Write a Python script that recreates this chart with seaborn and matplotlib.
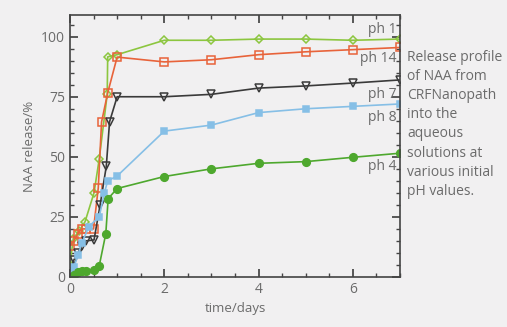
import numpy as np
import pandas as pd
import seaborn as sns
import matplotlib.pyplot as plt
from matplotlib.ticker import MultipleLocator

# release data (time in days, release in %)
t_ph1 = [0, 0.07, 0.19, 0.32, 0.51, 0.62, 0.79, 0.8, 1.0, 2, 3, 4, 5, 6, 7]
v_ph1 = [5, 16, 19, 23, 35, 49, 76, 91.6, 92.5, 98.5, 98.5, 99, 99, 98.5, 99]

t_ph14 = [0, 0.08, 0.17, 0.25, 0.33, 0.5, 0.6, 0.67, 0.8, 1.0, 2, 3, 4, 5, 6, 7]
v_ph14 = [13, 15, 18, 20, 20, 20, 37, 64.5, 76.6, 91.5, 89.5, 90.4, 92.5, 93.7, 94.6, 95.5]

t_ph7 = [0, 0.08, 0.17, 0.25, 0.33, 0.51, 0.64, 0.77, 0.84, 1.0, 2, 3, 4, 5, 6, 7]
v_ph7 = [2, 7, 10, 13, 15, 15.4, 30, 46, 64.6, 75, 75, 76, 78.6, 79.5, 80.7, 82]

t_ph8 = [0, 0.08, 0.17, 0.25, 0.4, 0.62, 0.73, 0.8, 1.0, 2, 3, 4, 5, 6, 7]
v_ph8 = [1, 4, 9, 14, 21, 25, 35, 40, 42, 60.7, 63.2, 68.4, 70, 71, 72]

t_ph4 = [0, 0.08, 0.17, 0.25, 0.33, 0.5, 0.62, 0.76, 0.81, 1.0, 2, 3, 4, 5, 6, 7]
v_ph4 = [0, 1, 2, 2.5, 2.5, 3, 4.6, 18, 32.6, 36.8, 41.8, 45, 47.3, 48, 49.8, 51.5]

labels = ["ph 1", "ph 14", "ph 7", "ph 8", "ph 4"]
label_y = [103, 91, 76, 66.5, 46]

caption = ("Release profile\nof NAA from\nCRFNanopath\ninto the\naqueous\n"
           "solutions at\nvarious initial\npH values.")

sns.set_theme(style="ticks")
plt.rcParams["font.family"] = ["Open Sans", "DejaVu Sans"]
bg = "#f1f0f1"
grey = "#6b6b6b"

fig = plt.figure(figsize=(5.07, 3.27), dpi=100, facecolor=bg)
ax = fig.add_axes([0.138, 0.153, 0.651, 0.801])
ax.set_facecolor(bg)

series = [
    (t_ph1, v_ph1, "#8cc63f", "D", "none", 4.5),
    (t_ph14, v_ph14, "#e8633a", "s", "none", 6),
    (t_ph7, v_ph7, "#3a3a3a", "v", "none", 5.5),
    (t_ph8, v_ph8, "#86bfe6", "s", "#86bfe6", 4),
    (t_ph4, v_ph4, "#4ea82e", "o", "#4ea82e", 5.5),
]
for t, v, c, m, fc, ms in series:
    df = pd.DataFrame({"time": t, "release": v})
    sns.lineplot(data=df, x="time", y="release", ax=ax, color=c, lw=1.2,
                 marker=m, markersize=ms, markerfacecolor=fc,
                 markeredgecolor=c, markeredgewidth=1.1, sort=False)

for lab, y in zip(labels, label_y):
    ax.text(6.93, y, lab, ha="right", va="center", fontsize=10, color=grey)

ax.set_xlim(0, 7)
ax.set_ylim(0, 109)
ax.xaxis.set_major_locator(MultipleLocator(2))
ax.xaxis.set_minor_locator(MultipleLocator(0.5))
ax.yaxis.set_major_locator(MultipleLocator(25))
ax.yaxis.set_minor_locator(MultipleLocator(5))
ax.tick_params(which="both", direction="in", top=True, right=True,
               color="#444444", labelsize=10, labelcolor=grey)
ax.tick_params(which="major", length=6)
ax.tick_params(which="minor", length=3)
for s in ax.spines.values():
    s.set_color("#444444")
    s.set_linewidth(1.2)

ax.set_xlabel("time/days", fontsize=9.5, color=grey)
ax.set_ylabel("NAA release/%", fontsize=9.5, color=grey)

fig.text(0.803, 0.848, caption, ha="left", va="top", fontsize=10,
         color=grey, linespacing=1.38)

fig.savefig("out.png", dpi=100, facecolor=bg)
